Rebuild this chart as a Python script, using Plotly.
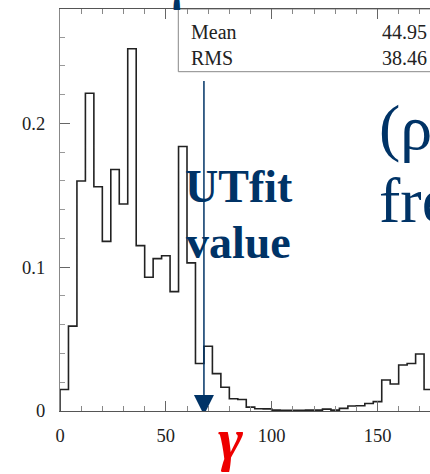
import plotly.graph_objects as go

# ---------------- data ----------------
bin_width = 4
bin_values = [0.015, 0.059, 0.160, 0.221, 0.156, 0.118, 0.168, 0.144, 0.252, 0.115,
              0.093, 0.106, 0.108, 0.083, 0.184, 0.103, 0.033, 0.045, 0.026, 0.0165,
              0.0085, 0.008, 0.0027, 0.0016, 0.0015, 0.0006, 0.0005, 0.0005, 0.0005, 0.0006,
              0.0006, 0.0013, 0.0006, 0.0018, 0.0035, 0.0037, 0.0052, 0.0065, 0.0216, 0.0188,
              0.032, 0.033, 0.0396, 0.015]
bin_edges = [i * bin_width for i in range(len(bin_values) + 1)]
x_tick_vals = [0, 50, 100, 150]
y_tick_vals = [0, 0.1, 0.2]
utfit_value = 68
stats_labels = ["Mean", "RMS"]
stats_values = ["44.95", "38.46"]

# ---------------- layout helpers ----------------
W, H = 430, 474
ML, MR, MT, MB = 60, 0, 9, 63
X_RANGE = [0, 174.8]
Y_RANGE = [0, 0.2796]
BLUE = "#003366"
SERIF = "Liberation Serif"


def px_x(p):
    return (p - ML) / (W - ML - MR)


def px_y(p):
    return (H - MB - p) / (H - MT - MB)


fig = go.Figure()
fig.add_trace(go.Scatter(
    x=[0] + bin_edges,
    y=[0] + bin_values + [bin_values[-1]],
    mode="lines",
    line=dict(shape="hv", color="#222222", width=1.6),
    hoverinfo="skip",
    showlegend=False,
))

shapes = [
    dict(type="rect", xref="paper", yref="paper", x0=px_x(178.3), x1=1.2,
         y0=px_y(71.7), y1=1.0, line=dict(color="#888888", width=1),
         fillcolor="white", layer="below"),
    dict(type="line", xref="x", yref="y", x0=utfit_value, x1=utfit_value,
         y0=0.011, y1=0.2295, line=dict(color=BLUE, width=1.5)),
    dict(type="path", xref="x", yref="y", xsizemode="pixel", ysizemode="pixel",
         xanchor=utfit_value, yanchor=0, path="M-10,16 L10,16 L0,-4 Z",
         fillcolor=BLUE, line=dict(width=0)),
]


def ann(text, px, py, size, xanchor="left", bold=False, italic=False, color=BLUE, family=SERIF):
    t = text
    if bold:
        t = "<b>" + t + "</b>"
    if italic:
        t = "<i>" + t + "</i>"
    return dict(text=t, xref="paper", yref="paper", x=px_x(px), y=px_y(py),
                xanchor=xanchor, yanchor="middle", showarrow=False,
                font=dict(family=family, size=size, color=color),
                borderpad=0, borderwidth=0)


annotations = []
for i, (lab, val) in enumerate(zip(stats_labels, stats_values)):
    base = [38.5, 64.7][i]
    annotations.append(ann(lab, 191.0, base - 0.3375 * 20, 20, color="#222222"))
    annotations.append(ann(val, 427.0, base - 0.3375 * 20, 20, xanchor="right", color="#222222"))

annotations += [
    ann("UTfit", 184.5, 201.7 - 0.3375 * 46, 46, bold=True),
    ann("value", 186.0, 258.3 - 0.3375 * 46, 46, bold=True),
    ann("(ρ", 379.0, 149 - 0.3375 * 64, 64),
    ann("fre", 379.0, 222.0 - 0.3375 * 64, 64),
    ann("γ", 230.0, 459 - 0.3375 * 60, 60, xanchor="center", bold=True, italic=True, color="#ee0000"),
    ann("γ", 176.0, 0 - 0.3375 * 46, 46, xanchor="center", bold=True),
]

fig.update_layout(
    width=W, height=H,
    margin=dict(l=ML, r=MR, t=MT, b=MB, pad=0),
    paper_bgcolor="white", plot_bgcolor="white",
    shapes=shapes, annotations=annotations,
    showlegend=False,
    xaxis=dict(range=X_RANGE, tickvals=x_tick_vals, ticks="inside", ticklen=10,
               tickcolor="#666666", tickwidth=1, showline=True, linecolor="#555555",
               linewidth=1.2, mirror="ticks", showgrid=False, zeroline=False,
               tickfont=dict(family=SERIF, size=18.5, color="#222222"),
               ticklabelstandoff=8,
               minor=dict(dtick=10, ticks="inside", ticklen=5, tickcolor="#888888", showgrid=False)),
    yaxis=dict(range=Y_RANGE, tickvals=y_tick_vals, ticks="inside", ticklen=10,
               tickcolor="#666666", tickwidth=1, showline=True, linecolor="#888888",
               linewidth=1.2, showgrid=False, zeroline=False,
               tickfont=dict(family=SERIF, size=18.5, color="#222222"),
               ticklabelstandoff=10,
               minor=dict(dtick=0.02, ticks="inside", ticklen=5, tickcolor="#999999", showgrid=False)),
)

fig.write_html("out.html")
